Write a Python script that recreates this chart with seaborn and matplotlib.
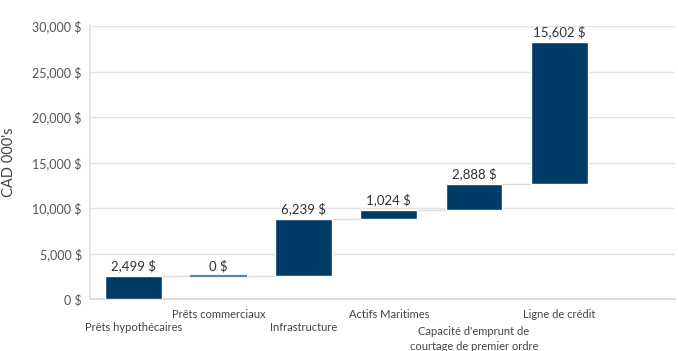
import matplotlib
matplotlib.use("Agg")
import matplotlib.pyplot as plt
import seaborn as sns
import pandas as pd
import numpy as np

categories = ["Prêts hypothécaires", "Prêts commerciaux", "Infrastructure",
              "Actifs Maritimes", "Capacité d'emprunt de\ncourtage de premier ordre",
              "Ligne de crédit"]
values = [2499, 0, 6239, 1024, 2888, 15602]
value_labels = ["2,499 $", "0 $", "6,239 $", "1,024 $", "2,888 $", "15,602 $"]
yticks = [0, 5000, 10000, 15000, 20000, 25000, 30000]
ytick_labels = ["0 $", "5,000 $", "10,000 $", "15,000 $", "20,000 $", "25,000 $", "30,000 $"]

sns.set_theme(style="white")
plt.rcParams['font.family'] = ['Lato', 'DejaVu Sans']

bottoms = np.concatenate([[0], np.cumsum(values)[:-1]])
df = pd.DataFrame({"cat": categories, "val": values})

fig = plt.figure(figsize=(6.78, 3.51), dpi=100)
ax = fig.add_axes([90/678, 52/351, 585/678, 273/351])

sns.barplot(data=df, x="cat", y="val", color="#003a66", saturation=1,
            width=0.667, ax=ax, zorder=3)

for i, p in enumerate(ax.patches):
    p.set_y(bottoms[i])
    if values[i] == 0:
        p.set_edgecolor("#5b86b0")
        p.set_linewidth(1.6)

# connectors
tops = bottoms + np.array(values)
for i in range(len(values) - 1):
    p = ax.patches[i]
    x0 = p.get_x() + p.get_width()
    x1 = ax.patches[i + 1].get_x()
    ax.plot([x0, x1], [tops[i], tops[i]], color="#dcdcdc", lw=1, zorder=2)

for i, p in enumerate(ax.patches):
    cx = p.get_x() + p.get_width() / 2
    ax.annotate(value_labels[i], (cx, tops[i]), xytext=(0, 3), textcoords="offset points",
                ha="center", va="bottom", fontsize=9.5, color="#333333")

ax.set_ylim(0, 30000)
ax.set_xlim(-0.51, 6.36)
ax.set_yticks(yticks)
ax.set_yticklabels(ytick_labels, fontsize=9, color="#555555")
ax.set_xticks(range(len(categories)))
ax.set_xticklabels([""] * len(categories))
ax.tick_params(axis="x", length=0)
ax.tick_params(axis="y", length=0, pad=6)
ax.yaxis.grid(True, color="#e3e3e3", lw=1, zorder=0)
ax.set_axisbelow(True)
ax.set_xlabel("")
ax.set_ylabel("CAD 000's", fontsize=10.5, color="#444444")
ax.yaxis.set_label_coords(-0.1265, 0.5)

for s in ["top", "right"]:
    ax.spines[s].set_visible(False)
ax.spines["left"].set_color("#e3e3e3")
ax.spines["bottom"].set_color("#d8d8d8")

trans = matplotlib.transforms.blended_transform_factory(ax.transData, ax.transAxes)
label_y = [-0.1026, -0.055, -0.1026, -0.055, -0.148, -0.055]
for i, c in enumerate(categories):
    ax.text(i, label_y[i], c, transform=trans, ha="center", va="center",
            fontsize=8, color="#444444", linespacing=1.45)

fig.savefig("out.png", dpi=100)
